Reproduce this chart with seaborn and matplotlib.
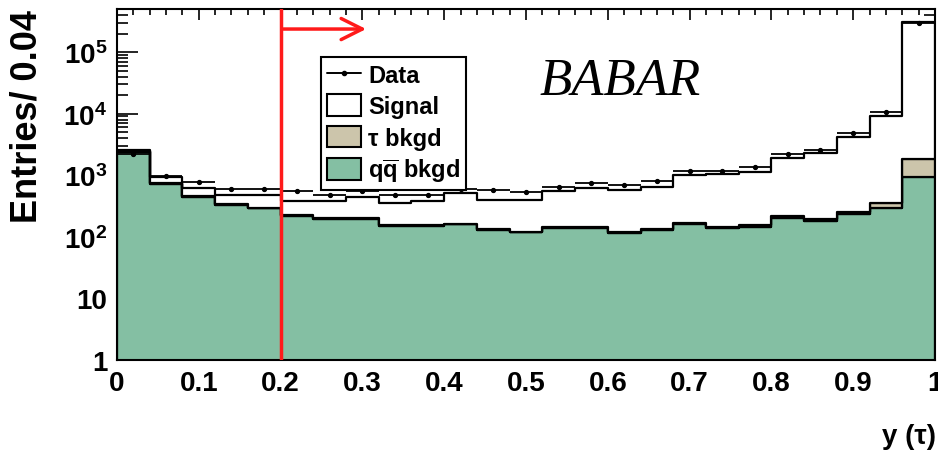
import numpy as np
import pandas as pd
import seaborn as sns
import matplotlib.pyplot as plt
from matplotlib.patches import Patch
from matplotlib.lines import Line2D
from matplotlib.ticker import MultipleLocator, LogLocator, FuncFormatter, NullFormatter

# binning: 25 bins of width 0.04 in y(tau)
bin_width = 0.04
n_bins = 25

# (entries per bin)
stack_total = [2550, 935, 620, 475, 475, 380, 380, 447, 354, 380, 508, 396, 396,
               550, 626, 582, 650, 1000, 1030, 1120, 1910, 2290, 4160, 9300, 310000]
qq_bkg = [2400, 720, 445, 328, 290, 220, 195, 195, 151, 151, 159, 129, 118,
          140, 140, 114, 129, 159, 140, 146, 204, 182, 235, 290, 920]
tau_bkg = [60, 15, 10, 8, 7, 6, 6, 6, 5, 5, 5, 5, 4,
           5, 5, 4, 5, 6, 6, 8, 10, 12, 18, 64, 950]
data_counts = [2200, 980, 780, 597, 597, 550, 475, 550, 475, 475, 597, 575, 527,
               635, 740, 700, 795, 1180, 1180, 1340, 2200, 2600, 4780, 10500, 295000]
signal = [t - q - b for t, q, b in zip(stack_total, qq_bkg, tau_bkg)]

green = "#84bfa3"
tan = "#ccc5ab"
red = "#ff1a1a"

sns.set_style("ticks")
plt.rcParams["font.family"] = ["Liberation Sans", "DejaVu Sans"]
plt.rcParams["font.weight"] = "bold"
plt.rcParams["text.color"] = "black"
plt.rcParams["xtick.color"] = "black"
plt.rcParams["ytick.color"] = "black"
plt.rcParams["mathtext.fontset"] = "custom"
plt.rcParams["mathtext.rm"] = "Liberation Sans:bold"
plt.rcParams["mathtext.it"] = "Liberation Sans:bold"
plt.rcParams["mathtext.bf"] = "Liberation Sans:bold"

centers = (np.arange(n_bins) + 0.5) * bin_width

df = pd.DataFrame({
    "y": np.tile(centers, 3),
    "n": np.concatenate([signal, tau_bkg, qq_bkg]).astype(float),
    "comp": ["Signal"] * n_bins + ["tau"] * n_bins + ["qq"] * n_bins,
})

fig = plt.figure(figsize=(9.38, 4.56), dpi=100)
ax = fig.add_axes([0.1247, 0.2083, 0.8721, 0.7697])

sns.histplot(data=df, x="y", weights="n", hue="comp",
             hue_order=["Signal", "tau", "qq"], binwidth=bin_width, binrange=(0, 1),
             multiple="stack", element="step", alpha=1,
             palette={"Signal": "white", "tau": tan, "qq": green},
             edgecolor="black", linewidth=1.6, legend=False, ax=ax)

ax.errorbar(centers, data_counts, xerr=bin_width / 2, yerr=np.sqrt(data_counts),
            fmt="o", ms=2.8, color="black", lw=1.3, capsize=0, zorder=5)

ax.set_yscale("log")
ax.set_xlim(0, 1)
ax.set_ylim(1, 5e5)

# cut line and arrow
ax.axvline(0.2, color=red, lw=2.5, zorder=6)
ax.annotate("", xy=(0.308, 0.943), xytext=(0.2, 0.943),
            xycoords=ax.get_xaxis_transform(),
            arrowprops=dict(arrowstyle="->", color=red, lw=2.5, mutation_scale=38),
            zorder=6)

ax.text(0.517, 0.758, "BABAR", transform=ax.transAxes, fontsize=38,
        family="Liberation Serif", style="italic", weight="normal", va="baseline")

# ticks, ROOT style
ax.xaxis.set_major_locator(MultipleLocator(0.1))
ax.xaxis.set_minor_locator(MultipleLocator(0.02))
ax.yaxis.set_major_locator(LogLocator(base=10, numticks=10))
ax.yaxis.set_minor_locator(LogLocator(base=10, subs=np.arange(2, 10), numticks=20))
ax.yaxis.set_minor_formatter(NullFormatter())


def ylab(v, pos):
    if v < 5:
        return "1"
    if v < 50:
        return "10"
    return r"$10^{%d}$" % round(np.log10(v))


ax.yaxis.set_major_formatter(FuncFormatter(ylab))
ax.xaxis.set_major_formatter(FuncFormatter(lambda v, p: "%g" % round(v, 1)))
ax.tick_params(which="both", direction="in", top=True, right=True, width=1.2,
               labelsize=20, color="black", labelcolor="black")
ax.tick_params(axis="x", which="major", length=8, pad=7)
ax.tick_params(axis="x", which="minor", length=4)
ax.tick_params(axis="y", which="major", length=15, pad=7)
ax.tick_params(axis="y", which="minor", length=8)
for s in ax.spines.values():
    s.set_linewidth(1.5)
    s.set_color("black")
ax.set_xlabel("")
ax.set_ylabel("")

fig.text(27 / 938, 1 - 10 / 456, "Entries/ 0.04", rotation=90, ha="center",
         va="top", fontsize=26, weight="bold")
fig.text(936 / 938, 1 - 437 / 456, "y (\u03c4)", ha="right", va="center",
         fontsize=20, weight="bold")

handles = [
    Line2D([], [], color="black", marker="o", ms=3, lw=1.4),
    Patch(facecolor="white", edgecolor="black", lw=1.5),
    Patch(facecolor=tan, edgecolor="black", lw=1.5),
    Patch(facecolor=green, edgecolor="black", lw=1.5),
]
labels = ["Data", "Signal", "\u03c4 bkgd", r"$\mathrm{q\overline{q}}$ bkgd"]
leg = ax.legend(handles, labels, loc="upper left", bbox_to_anchor=(0.249, 0.862),
                prop={"weight": "bold", "size": 17}, frameon=True, fancybox=False,
                framealpha=1, edgecolor="black", borderpad=0.25, labelspacing=0.3,
                handlelength=1.45, handleheight=1.05, handletextpad=0.3,
                borderaxespad=0)
leg.get_frame().set_linewidth(1.5)
leg.set_zorder(7)

fig.savefig("out.png", dpi=100)
